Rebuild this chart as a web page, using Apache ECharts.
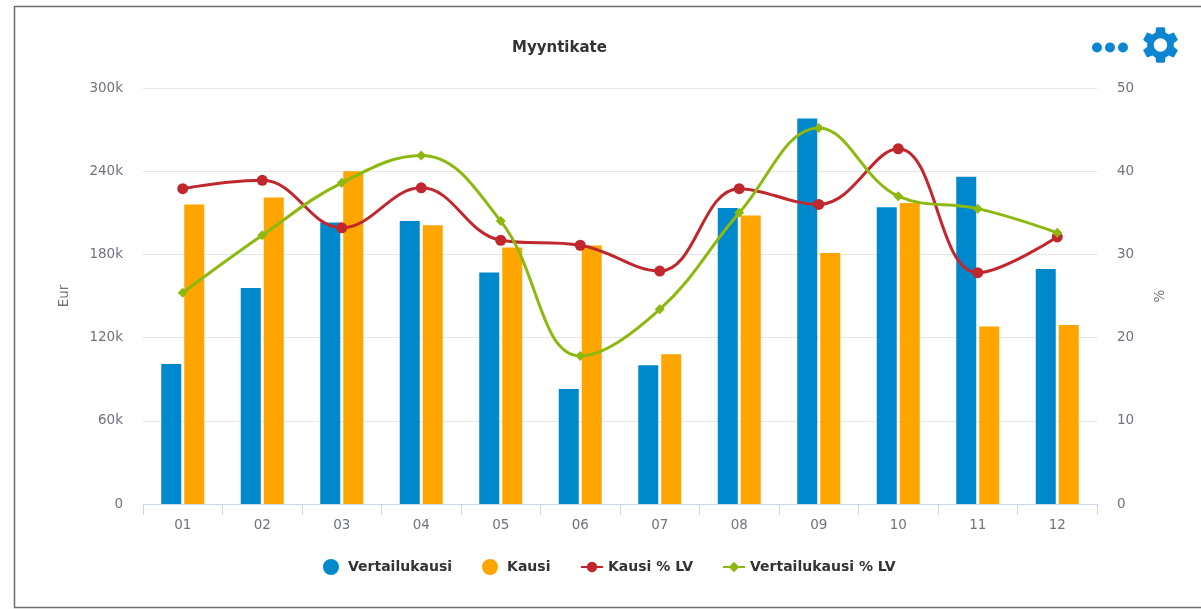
<!DOCTYPE html>
<html><head><meta charset="utf-8">
<style>html,body{margin:0;padding:0;background:#fff}#c{width:1201px;height:609px}</style>
<script src="https://cdn.jsdelivr.net/npm/echarts@6/dist/echarts.min.js"></script>
</head><body><div id="c"></div>
<script>
const categories = ['01','02','03','04','05','06','07','08','09','10','11','12'];
const vertailukausi = [101000,155800,203000,204000,167000,83000,100000,213500,278000,214000,236000,169500];
const kausi = [216000,221000,240000,201000,185000,186500,108000,208000,181000,217000,128000,129000];
const kausiPct = [37.9,38.9,33.2,38.0,31.7,31.1,28.0,37.9,36.0,42.7,27.8,32.1];
const vertailuPct = [25.4,32.3,38.6,41.9,34.0,17.8,23.4,35.0,45.2,37.0,35.5,32.6];
const leftTicks = {min:0,max:300000,interval:60000};
const rightTicks = {min:0,max:50,interval:10};

const FONT = '"DejaVu Sans", sans-serif';
const GEAR = 'M19.14 12.94c.04-.3.06-.61.06-.94 0-.32-.02-.64-.07-.94l2.03-1.58c.18-.14.23-.41.12-.61l-1.92-3.32c-.12-.22-.37-.29-.59-.22l-2.39.96c-.5-.38-1.03-.7-1.62-.94l-.36-2.54c-.04-.24-.24-.41-.48-.41h-3.84c-.24 0-.43.17-.47.41l-.36 2.54c-.59.24-1.13.57-1.62.94l-2.39-.96c-.22-.08-.47 0-.59.22L2.74 8.87c-.12.21-.08.47.12.61l2.03 1.58c-.05.3-.09.63-.09.94s.02.64.07.94l-2.03 1.58c-.18.14-.23.41-.12.61l1.92 3.32c.12.22.37.29.59.22l2.39-.96c.5.38 1.03.7 1.62.94l.36 2.54c.05.24.24.41.48.41h3.84c.24 0 .44-.17.47-.41l.36-2.54c.59-.24 1.13-.56 1.62-.94l2.39.96c.22.08.47 0 .59-.22l1.92-3.32c.12-.22.07-.47-.12-.61l-2.01-1.58zM12 15.6c-1.98 0-3.6-1.62-3.6-3.6s1.62-3.6 3.6-3.6 3.6 1.62 3.6 3.6-1.62 3.6-3.6 3.6z';
echarts.graphic.registerShape('gear', echarts.graphic.extendPath(GEAR, {}));
const axisLabel = {color:'#6f7380',fontFamily:FONT,fontSize:13.5};
const nameStyle = {color:'#6f7380',fontFamily:FONT,fontSize:13.5};
const legendText = {fontFamily:FONT,fontSize:14,fontWeight:'bold',color:'#333333'};

const chart = echarts.init(document.getElementById('c'),null,{renderer:'canvas'});
chart.setOption({
  animation:false,
  backgroundColor:'#fff',
  title:{text:'Myyntikate',left:507,top:36,
    textStyle:{fontFamily:FONT,fontSize:15,fontWeight:'bold',color:'#333333'}},
  grid:{left:143,right:104,top:88,bottom:105,containLabel:false},
  legend:[
    {top:559,left:323,padding:0,itemGap:30,itemWidth:24,itemHeight:16,textStyle:legendText,
      data:[{name:'Vertailukausi',icon:'circle'},{name:'Kausi',icon:'circle'}]},
    {top:560,left:580,padding:0,itemGap:29,itemWidth:22,itemHeight:13,textStyle:legendText,
      data:[{name:'Kausi % LV'},{name:'Vertailukausi % LV'}]}
  ],
  xAxis:{type:'category',data:categories,
    axisLine:{lineStyle:{color:'#ccd6eb'}},
    axisTick:{show:true,alignWithLabel:false,length:11,lineStyle:{color:'#ccd6eb'}},
    axisLabel:{...axisLabel,margin:14}},
  yAxis:[
    {type:'value',...leftTicks,name:'Eur',nameLocation:'middle',nameGap:72,nameTextStyle:nameStyle,
      axisLine:{show:false},axisTick:{show:false},
      axisLabel:{...axisLabel,margin:20,formatter:v=>v===0?'0':(v/1000)+'k'},
      splitLine:{lineStyle:{color:'#e6e6e6'}}},
    {type:'value',...rightTicks,position:'right',name:'%',nameLocation:'middle',nameGap:56,nameTextStyle:nameStyle,
      axisLine:{show:false},axisTick:{show:false},
      axisLabel:{...axisLabel,margin:20},
      splitLine:{show:false}}
  ],
  series:[
    {name:'Vertailukausi',type:'bar',data:vertailukausi,barWidth:20,barGap:'15%',itemStyle:{color:'#0088cc'}},
    {name:'Kausi',type:'bar',data:kausi,barWidth:20,itemStyle:{color:'#ffa500'}},
    {name:'Kausi % LV',type:'line',yAxisIndex:1,data:kausiPct,smooth:0.4,symbol:'circle',symbolSize:11,
      lineStyle:{color:'#c0282d',width:3},itemStyle:{color:'#c0282d'}},
    {name:'Vertailukausi % LV',type:'line',yAxisIndex:1,data:vertailuPct,smooth:0.4,symbol:'diamond',symbolSize:10,
      lineStyle:{color:'#8cb80f',width:3},itemStyle:{color:'#8cb80f'}}
  ],
  graphic:[
    {type:'rect',shape:{x:14.5,y:6.5,width:1300,height:601},style:{fill:'none',stroke:'#6e6e6e',lineWidth:1.5},silent:true},
    {type:'circle',shape:{cx:1097,cy:47.5,r:5},style:{fill:'#0d86d1'}},
    {type:'circle',shape:{cx:1110,cy:47.5,r:5},style:{fill:'#0d86d1'}},
    {type:'circle',shape:{cx:1123,cy:47.5,r:5},style:{fill:'#0d86d1'}},
    {type:'gear',x:1138.3,y:22.8,scaleX:1.85,scaleY:1.85,style:{fill:'#0d86d1'}}
  ]
});
</script></body></html>
